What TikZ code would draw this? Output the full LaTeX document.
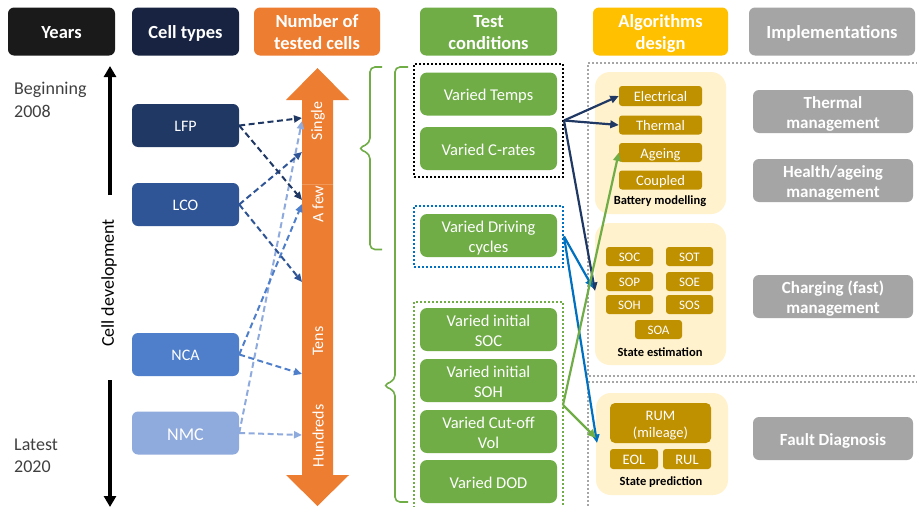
\documentclass[tikz,border=0pt]{standalone}
\usepackage{fontspec}
\setmainfont{Carlito}
\usetikzlibrary{arrows.meta}
\definecolor{cYears}{HTML}{1A1A1A}
\definecolor{cCellH}{HTML}{172341}
\definecolor{cLFP}{HTML}{203864}
\definecolor{cLCO}{HTML}{2F5597}
\definecolor{cNCA}{HTML}{4F7FCB}
\definecolor{cNMC}{HTML}{8FAADC}
\definecolor{cOrange}{HTML}{ED7D31}
\definecolor{cGreen}{HTML}{70AD47}
\definecolor{cYellow}{HTML}{FFC000}
\definecolor{cGray}{HTML}{A5A5A5}
\definecolor{cPanel}{HTML}{FFF2CC}
\definecolor{cGold}{HTML}{BF9000}
\definecolor{cBlue}{HTML}{0070C0}
\definecolor{cDotGray}{HTML}{A6A6A6}
\definecolor{cText}{HTML}{404040}
\newcommand{\myStrA}{\rule{0pt}{1.05em}}
\newcommand{\myStrD}{\rule[-0.25em]{0pt}{0.25em}}
\tikzset{
  ppstrut/.style={execute at begin node=\myStrA, execute at end node=\myStrD},
  hdr/.style={rounded corners=6pt, text=white, inner sep=0pt, align=center, ppstrut,
    font=\fontsize{18.5}{22}\selectfont\bfseries},
  cellbox/.style={rounded corners=6pt, text=white, inner sep=0pt, ppstrut,
    minimum width=107pt, minimum height=43pt, font=\fontsize{16}{19}\selectfont},
  cond/.style={rounded corners=7pt, fill=cGreen, text=white, inner sep=0pt, ppstrut,
    minimum width=137pt, minimum height=43pt, align=center,
    font=\fontsize{16.5}{20}\selectfont},
  goldbox/.style={rounded corners=3pt, fill=cGold, text=white, inner sep=0pt, align=center, ppstrut},
  panelbox/.style={rounded corners=15pt, fill=cPanel, inner sep=0pt},
  impl/.style={rounded corners=6pt, fill=cGray, text=white, inner sep=0pt, ppstrut,
    minimum width=160pt, minimum height=43pt, align=center,
    font=\fontsize{17}{20.5}\selectfont\bfseries},
  plab/.style={font=\fontsize{12.5}{15}\selectfont\bfseries, text=black, inner sep=0pt},
  numlab/.style={rotate=90, text=white, inner sep=0pt, font=\fontsize{16}{19}\selectfont},
  sidetext/.style={text=cText, inner sep=0pt, align=left, anchor=west,
    font=\fontsize{18}{22.5}\selectfont},
  dline/.style={line width=2pt, dash pattern=on 6pt off 3.5pt,
    -{Triangle[length=8pt,width=7pt]}},
  sline/.style={line width=2.2pt, -{Triangle[length=8.5pt,width=7.5pt]}},
  dotbox/.style={line width=2pt, dash pattern=on 2pt off 2pt, inner sep=0pt},
  gdot/.style={cDotGray, line width=2pt, dash pattern=on 2pt off 2pt},
  brace/.style={cGreen, line width=1.6pt, rounded corners=5pt},
  timearrow/.style={line width=4pt, black, -{Triangle[length=11pt,width=12pt]}}
}
\begin{document}
\begin{tikzpicture}[x=1pt,y=-1pt]
\useasboundingbox (0,0) rectangle (917,506);
\fill[white] (0,0) rectangle (917,506);

% ---------- headers ----------
\node[hdr, fill=cYears, minimum width=107pt, minimum height=48pt] (hY) at (61.5,31.5) {Years};
\node[hdr, fill=cCellH, minimum width=107pt, minimum height=48pt] (hC) at (185.5,31.5) {Cell types};
\node[hdr, fill=cOrange, minimum width=126pt, minimum height=48pt] (hN) at (317,31.5) {\myStrA Number of\\tested cells\myStrD};
\node[hdr, fill=cGreen, minimum width=137pt, minimum height=48pt] (hT) at (488.5,31.5) {\myStrA Test\\conditions\myStrD};
\node[hdr, fill=cYellow, minimum width=135pt, minimum height=48pt] (hA) at (660.5,31.5) {\myStrA Algorithms\\design\myStrD};
\node[hdr, fill=cGray, minimum width=166pt, minimum height=48pt] (hI) at (832,31.5) {Implementations};

% ---------- years column ----------
\node[sidetext] (yB) at (14,100) {Beginning\\2008};
\node[sidetext] (yL) at (14,456) {Latest\\2020};
\node[rotate=90, inner sep=0pt, text=black, font=\fontsize{18}{22}\selectfont] (cdev) at (109,283) {Cell development};
\coordinate (upS) at (110,195);
\coordinate (upE) at (110,66);
\coordinate (dnS) at (110,380);
\coordinate (dnE) at (110,507);
\draw[timearrow] (upS) -- (upE);
\draw[timearrow] (dnS) -- (dnE);

% ---------- cell types ----------
\node[cellbox, fill=cLFP] (lfp) at (185.5,125.5) {LFP};
\node[cellbox, fill=cLCO] (lco) at (185.5,204.5) {LCO};
\node[cellbox, fill=cNCA] (nca) at (185.5,354.5) {NCA};
\node[cellbox, fill=cNMC, font=\fontsize{18}{21}\selectfont] (nmc) at (185.5,433) {NMC};

% ---------- orange double arrow ----------
\fill[cOrange] (302,475) -- (302,100) -- (286,100) -- (317.5,68) -- (349,100) -- (333,100)
  -- (333,475) -- (349,475) -- (317.5,506) -- (286,475) -- cycle;
\draw[white, opacity=0.2, line width=0.6pt] (302,184) -- (333,184);
\node[numlab] (nS) at (318,121) {Single};
\node[numlab] (nF) at (318,204) {A few};
\node[numlab] (nT) at (318,341) {Tens};
\node[numlab] (nH) at (318,436) {Hundreds};
\coordinate (eS1) at (302,118);
\coordinate (eS2) at (302,152);
\coordinate (eS3) at (302,121);
\coordinate (eF1) at (302,200);
\coordinate (eF2) at (302,204);
\coordinate (eT1) at (302,282);
\coordinate (eT2) at (302,374);
\coordinate (eH1) at (302,435);

% ---------- dashed connectors ----------
\draw[dline, cNMC] (nmc.east) -- (eS3);
\draw[dline, cNMC] (nmc.east) -- (eH1);
\draw[dline, cNCA] (nca.east) -- (eF2);
\draw[dline, cNCA] (nca.east) -- (eT2);
\draw[dline, cLCO] (lco.east) -- (eS2);
\draw[dline, cLCO] (lco.east) -- (eT1);
\draw[dline, cLFP] (lfp.east) -- (eS1);
\draw[dline, cLFP] (lfp.east) -- (eF1);

% ---------- braces ----------
\draw[brace] (382,67) -- (370,67) -- (370,143) -- (358,148.5) -- (370,154) -- (370,249.5) -- (382,249.5);
\draw[brace] (408,67) -- (395,67) -- (395,380) -- (383,385.5) -- (395,391) -- (395,502) -- (408,502);

% ---------- test conditions ----------
\node[dotbox, draw=black, minimum width=149pt, minimum height=113pt] (dbK) at (488.5,120.5) {};
\node[dotbox, draw=cBlue, minimum width=149pt, minimum height=61pt] (dbB) at (488.5,236.5) {};
\draw[dotbox, cGreen] (414,508) -- (414,302) -- (563,302) -- (563,508);
\node[cond] (tTemp) at (488.5,94) {Varied Temps};
\node[cond] (tCrate) at (488.5,148.5) {Varied C-rates};
\node[cond] (tDrive) at (488.5,235.5) {\myStrA Varied Driving\\cycles\myStrD};
\node[cond] (tSOC) at (488.5,329.5) {\myStrA Varied initial\\SOC\myStrD};
\node[cond] (tSOH) at (488.5,380.5) {\myStrA Varied initial\\SOH\myStrD};
\node[cond] (tCut) at (488.5,431.5) {\myStrA Varied Cut-off\\Vol\myStrD};
\node[cond] (tDOD) at (488.5,481.5) {Varied DOD};
\coordinate (gOrig) at (563,405);

% ---------- gray dotted frames ----------
\draw[gdot] (918,63) -- (588,63) -- (588,376) -- (918,376);
\draw[gdot] (918,382) -- (588,382) -- (588,508);

% ---------- algorithm panels ----------
\node[panelbox, minimum width=131pt, minimum height=142pt] (pBM) at (660.5,143) {};
\node[panelbox, minimum width=131pt, minimum height=142pt] (pSE) at (660.5,294) {};
\node[panelbox, minimum width=132pt, minimum height=102pt] (pSP) at (662,444) {};

\node[goldbox, minimum width=83pt, minimum height=20pt, font=\fontsize{14.5}{17}\selectfont] (aEl) at (660.5,96) {Electrical};
\node[goldbox, minimum width=83pt, minimum height=19pt, font=\fontsize{14.5}{17}\selectfont] (aTh) at (660.5,125) {Thermal};
\node[goldbox, minimum width=83pt, minimum height=19pt, font=\fontsize{14.5}{17}\selectfont] (aAg) at (660.5,152.5) {Ageing};
\node[goldbox, minimum width=83pt, minimum height=19pt, font=\fontsize{14.5}{17}\selectfont] (aCo) at (660.5,180) {Coupled};
\node[plab] (lBM) at (660,201) {Battery modelling};

\node[goldbox, minimum width=47pt, minimum height=19pt, font=\fontsize{13}{15}\selectfont] (sSOC) at (629.5,256.5) {SOC};
\node[goldbox, minimum width=47pt, minimum height=19pt, font=\fontsize{13}{15}\selectfont] (sSOT) at (689.5,256.5) {SOT};
\node[goldbox, minimum width=47pt, minimum height=19pt, font=\fontsize{13}{15}\selectfont] (sSOP) at (629.5,281.5) {SOP};
\node[goldbox, minimum width=47pt, minimum height=19pt, font=\fontsize{13}{15}\selectfont] (sSOE) at (689.5,281.5) {SOE};
\node[goldbox, minimum width=47pt, minimum height=19pt, font=\fontsize{13}{15}\selectfont] (sSOH) at (629.5,304.5) {SOH};
\node[goldbox, minimum width=47pt, minimum height=19pt, font=\fontsize{13}{15}\selectfont] (sSOS) at (689.5,304.5) {SOS};
\node[goldbox, minimum width=47pt, minimum height=19pt, font=\fontsize{13}{15}\selectfont] (sSOA) at (658.5,329.5) {SOA};
\node[plab] (lSE) at (660,352) {State estimation};

\node[goldbox, rounded corners=5pt, minimum width=101pt, minimum height=40pt, font=\fontsize{14.5}{17.5}\selectfont] (rRUM) at (660.5,423) {\myStrA RUM\\(mileage)\myStrD};
\node[goldbox, minimum width=48pt, minimum height=20pt, font=\fontsize{14.5}{17}\selectfont] (rEOL) at (634,459) {EOL};
\node[goldbox, minimum width=48pt, minimum height=20pt, font=\fontsize{14.5}{17}\selectfont] (rRUL) at (687,459) {RUL};
\node[plab] (lSP) at (661,482) {State prediction};

\coordinate (seIn) at (595,291);
\coordinate (seInB) at (593,288);
\coordinate (spInG) at (596,438);
\coordinate (spInB) at (597,443);

% ---------- solid connectors ----------
\draw[sline, cLFP] (dbK.east) -- (aEl.west);
\draw[sline, cLFP] (dbK.east) -- (aTh.west);
\draw[sline, cLFP] (dbK.east) -- (seIn);
\draw[sline, cBlue] (dbB.east) -- (seInB);
\draw[sline, cBlue] (dbB.east) -- (spInB);
\draw[sline, cGreen] (gOrig) -- (aAg.west);
\draw[sline, cGreen] (gOrig) -- (spInG);

% ---------- implementations ----------
\node[impl] (iTh) at (833,111.5) {\myStrA Thermal\\management\myStrD};
\node[impl] (iHe) at (833,180.5) {\myStrA Health/ageing\\management\myStrD};
\node[impl] (iCh) at (833,296.5) {\myStrA Charging (fast)\\management\myStrD};
\node[impl] (iFa) at (833,438.5) {Fault Diagnosis};
\end{tikzpicture}
\end{document}
